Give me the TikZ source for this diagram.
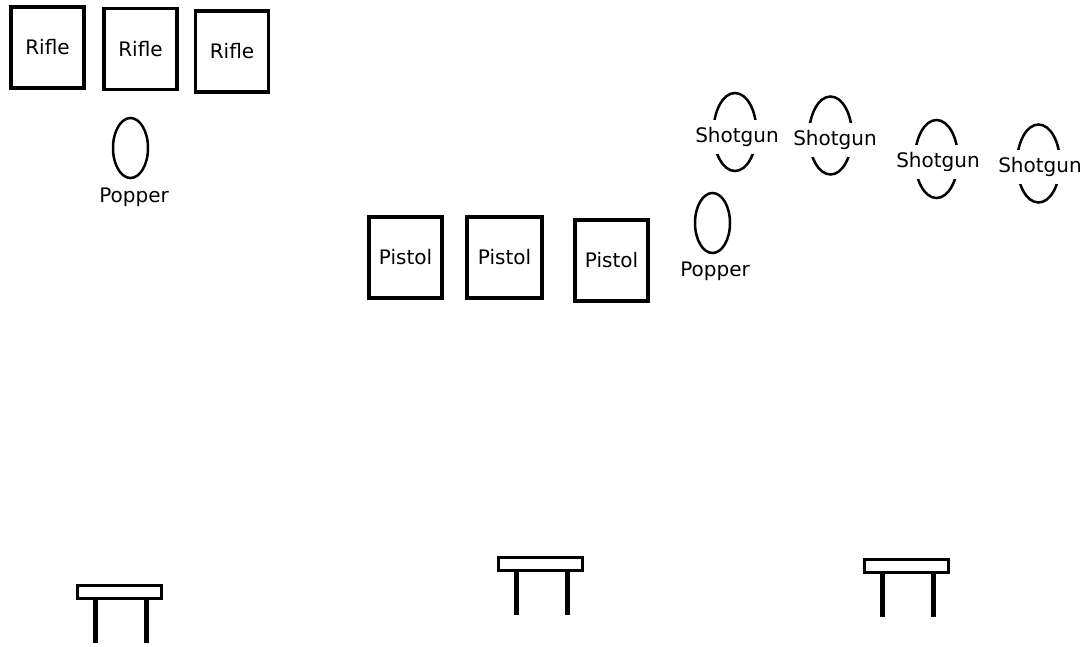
\documentclass[tikz,border=0pt]{standalone}
\usepackage{fontspec}
\setmainfont{DejaVu Sans}
\usetikzlibrary{shapes.geometric}
\begin{document}
\begin{tikzpicture}[x=1pt,y=-1pt,
    every node/.style={font=\fontsize{20}{24}\selectfont},
    target/.style={draw, line width=3.5pt, minimum width=73pt, minimum height=81pt, inner sep=0pt},
    popper/.style={draw, ellipse, line width=2.5pt, minimum width=35pt, minimum height=60pt, inner sep=0pt},
    clay/.style={draw, ellipse, line width=2.5pt, minimum width=43pt, minimum height=78pt, inner sep=0pt},
    claytext/.style={fill=white, inner xsep=1pt, inner ysep=7.5pt}]
    \useasboundingbox (0,0) rectangle (1091,646);

    % Gewehrziele oben links
    \node[target] (rifleA) at (47.5,47.5) {Rifle};
    \node[target] (rifleB) at (140.5,49) {Rifle};
    \node[target] (rifleC) at (232,51.5) {Rifle};
    \node[popper] (popperA) at (130.5,148) {};
    \node (popperAtext) at (134,197) {Popper};

    % Pistolenziele in der Mitte
    \node[target] (pistolA) at (405.5,257.5) {Pistol};
    \node[target, minimum width=75pt] (pistolB) at (504.5,257.5) {Pistol};
    \node[target] (pistolC) at (611.5,260.5) {Pistol};
    \node[popper] (popperB) at (712.5,223) {};
    \node (popperBtext) at (715,271) {Popper};

    % Wurfscheiben (Shotgun)
    \foreach \n/\cx/\cy/\tx/\ty in {A/735/132/737/137, B/830.5/135.5/835/140, C/936.5/159/938/162, D/1038.5/163.5/1040/167} {
        \node[clay] (clay\n) at (\cx,\cy) {};
        \node[claytext] (shotgun\n) at (\tx,\ty) {Shotgun};
    }

    % Tische
    \foreach \tx/\ty in {77/585, 498/557, 864/559} {
        \draw[line width=3pt] (\tx,\ty) rectangle ++(84,13);
        \draw[line width=5pt] (\tx+18,\ty+13) -- ++(0,45);
        \draw[line width=5pt] (\tx+69,\ty+13) -- ++(0,45);
    }
\end{tikzpicture}
\end{document}
